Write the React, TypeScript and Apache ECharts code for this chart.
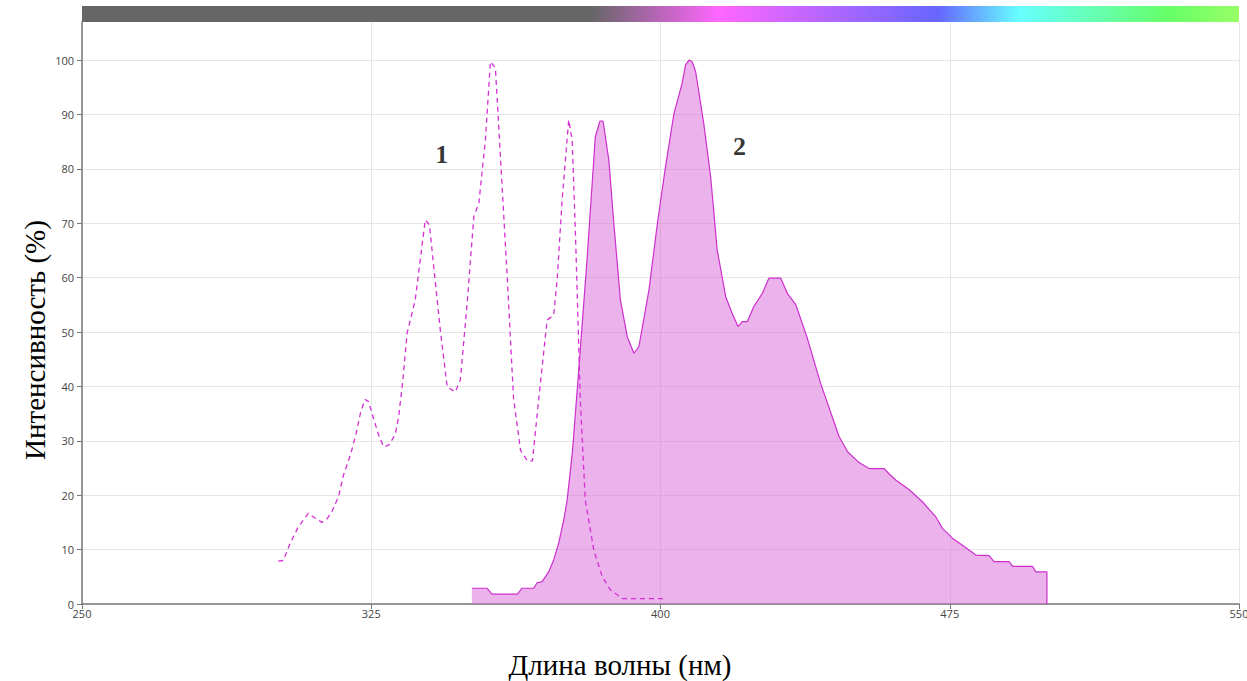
import React, { useEffect, useRef } from "react";
import * as echarts from "echarts";

// Series 1 (dashed): wavelength (nm) and intensity (%)
const s1Wavelength = [300.9, 302.2, 304.0, 306.1, 308.7, 310.0, 312.2, 313.5, 314.8, 316.5, 317.8, 319.6, 320.9, 322.2, 323.4, 324.3, 325.6, 326.9, 328.2, 329.5, 331.2, 332.1, 333.2, 334.3, 336.4, 339.0, 340.1, 341.2, 342.9, 344.7, 346.8, 348.1, 349.8, 351.6, 352.9, 354.6, 355.9, 357.2, 358.5, 360.2, 361.9, 363.7, 365.5, 366.8, 368.4, 370.6, 372.3, 373.2, 374.5, 376.2, 377.1, 378.0, 379.2, 380.5, 382.7, 384.9, 387.0, 390.1, 395.0, 400.8];
const s1Intensity = [7.9, 8.0, 11.2, 14.2, 16.7, 16.0, 15.0, 15.6, 17.0, 19.7, 23.7, 27.4, 30.8, 35.1, 37.6, 37.2, 34.1, 31.1, 28.9, 29.2, 31.1, 34.4, 41.2, 49.8, 55.9, 70.6, 69.7, 62.0, 50.4, 39.9, 39.0, 41.2, 54.7, 71.2, 73.7, 85.3, 99.7, 98.5, 82.2, 60.8, 37.8, 28.3, 26.3, 26.3, 37.5, 52.2, 53.1, 59.6, 74.3, 89.0, 85.3, 66.9, 37.5, 19.1, 9.9, 5.0, 2.6, 1.0, 1.0, 1.0];

// Series 2 (filled): wavelength (nm) and intensity (%)
const s2Wavelength = [351.1, 355.0, 356.3, 362.9, 364.1, 367.1, 368.0, 369.3, 371.0, 372.3, 373.6, 374.9, 375.8, 377.2, 378.8, 381.0, 383.1, 384.3, 385.1, 386.6, 387.9, 389.6, 391.4, 393.1, 394.4, 397.0, 399.2, 401.3, 403.5, 405.6, 406.5, 407.4, 408.2, 409.1, 411.2, 413.0, 414.7, 416.9, 418.6, 420.1, 421.2, 422.5, 424.2, 426.4, 428.1, 431.2, 432.9, 435.1, 438.1, 441.5, 446.3, 448.5, 451.5, 454.1, 458.0, 459.3, 461.0, 464.5, 467.9, 471.4, 473.1, 475.7, 478.3, 481.8, 485.2, 486.5, 490.4, 491.3, 496.5, 497.3, 500.2, 500.2];
const s2Intensity = [2.9, 2.9, 1.8, 1.8, 2.9, 2.9, 3.9, 4.1, 5.9, 8.1, 11.2, 15.4, 19.1, 28.3, 43.0, 63.8, 85.9, 88.8, 88.8, 81.6, 70.0, 55.9, 49.1, 46.1, 47.3, 57.7, 70.0, 80.4, 90.2, 95.7, 99.1, 100, 99.7, 97.9, 88.4, 78.6, 65.1, 56.5, 53.4, 51.0, 51.9, 51.9, 54.7, 57.1, 59.9, 59.9, 57.1, 55.0, 48.8, 40.6, 30.8, 28.0, 26.0, 24.9, 24.9, 23.9, 22.8, 21.0, 18.8, 16.0, 13.9, 12.1, 10.8, 9.0, 8.9, 7.8, 7.8, 6.9, 6.9, 5.9, 5.9, 0];

const xTicks = [250, 325, 400, 475, 550];
const yTicks = [0, 10, 20, 30, 40, 50, 60, 70, 80, 90, 100];
const yMax = 107;

const labels = [
  { text: "1", nm: 343.3, value: 82.6 },
  { text: "2", nm: 420.5, value: 84.1 },
];

const zip = (a: number[], b: number[]) => a.map((v, i) => [v, b[i]]);

export default function App() {
  const ref = useRef<HTMLDivElement>(null);
  useEffect(() => {
    if (!ref.current) return;
    const chart = echarts.init(ref.current, null, { renderer: "svg" });
    const gridLeft = 82;
    const gridRight = 8;
    const gridTop = 22;
    const gridBottom = 77;
    chart.setOption({
      animation: false,
      grid: {
        left: gridLeft,
        right: gridRight,
        top: gridTop,
        bottom: gridBottom,
        outerBoundsMode: "none",
        containLabel: false,
      },
      xAxis: {
        type: "value",
        min: xTicks[0],
        max: xTicks[xTicks.length - 1],
        interval: xTicks[1] - xTicks[0],
        axisLine: { show: true, lineStyle: { color: "#777", width: 1.5 } },
        axisTick: { show: true, length: 5, lineStyle: { color: "#777" } },
        axisLabel: { color: "#444", fontSize: 11, fontFamily: "Open Sans", margin: 4 },
        splitLine: { show: true, lineStyle: { color: "#e6e6e6", width: 1 } },
      },
      yAxis: {
        type: "value",
        min: 0,
        max: yMax,
        interval: 10,
        axisLine: { show: true, lineStyle: { color: "#777", width: 1.5 } },
        axisTick: { show: true, length: 5, lineStyle: { color: "#777" }, customValues: yTicks },
        axisLabel: {
          color: "#444",
          fontSize: 11,
          fontFamily: "Open Sans",
          margin: 8,
          customValues: yTicks,
        },
        splitLine: { show: true, lineStyle: { color: "#e6e6e6", width: 1 } },
      },
      series: [
        {
          type: "line",
          data: zip(s2Wavelength, s2Intensity),
          showSymbol: false,
          symbol: "none",
          lineStyle: { color: "#cc2fcc", width: 1.2 },
          areaStyle: { color: "#d966d9", opacity: 0.5 },
          z: 2,
        },
        {
          type: "line",
          data: zip(s1Wavelength, s1Intensity),
          showSymbol: false,
          symbol: "none",
          lineStyle: { color: "#d42fd4", width: 1.3, type: [5, 4] },
          z: 3,
        },
        {
          type: "scatter",
          data: labels.map((l) => [l.nm, l.value]),
          symbolSize: 0,
          silent: true,
          label: {
            show: true,
            position: "inside",
            formatter: (p: any) => labels[p.dataIndex].text,
            fontFamily: "Liberation Serif",
            fontWeight: "bold",
            fontSize: 26,
            color: "#000",
          },
          z: 4,
        },
      ],
      graphic: [
        {
          type: "rect",
          shape: { x: gridLeft, y: 6, width: 1247 - gridLeft - gridRight, height: 16 },
          style: {
            fill: new echarts.graphic.LinearGradient(0, 0, 1, 0, [
              { offset: 0, color: "#666666" },
              { offset: 0.44, color: "#666666" },
              { offset: 0.55, color: "#ff66ff" },
              { offset: 0.74, color: "#6666ff" },
              { offset: 0.81, color: "#66ffff" },
              { offset: 0.94, color: "#66ff66" },
              { offset: 1, color: "#99ff66" },
            ]),
          },
          z: 10,
        },
        {
          type: "text",
          x: 620,
          y: 665,
          style: {
            text: "Длина волны (нм)",
            font: "29px 'Liberation Serif'",
            fill: "#000",
            textAlign: "center",
            textVerticalAlign: "middle",
          },
        },
        {
          type: "text",
          x: 35,
          y: 340,
          rotation: Math.PI / 2,
          style: {
            text: "Интенсивность (%)",
            font: "29px 'Liberation Serif'",
            fill: "#000",
            textAlign: "center",
            textVerticalAlign: "middle",
          },
        },
      ],
    });
    return () => chart.dispose();
  }, []);
  return (
    <div
      ref={ref}
      style={{ position: "fixed", left: 0, top: 0, width: 1247, height: 681, background: "#fff" }}
    />
  );
}
